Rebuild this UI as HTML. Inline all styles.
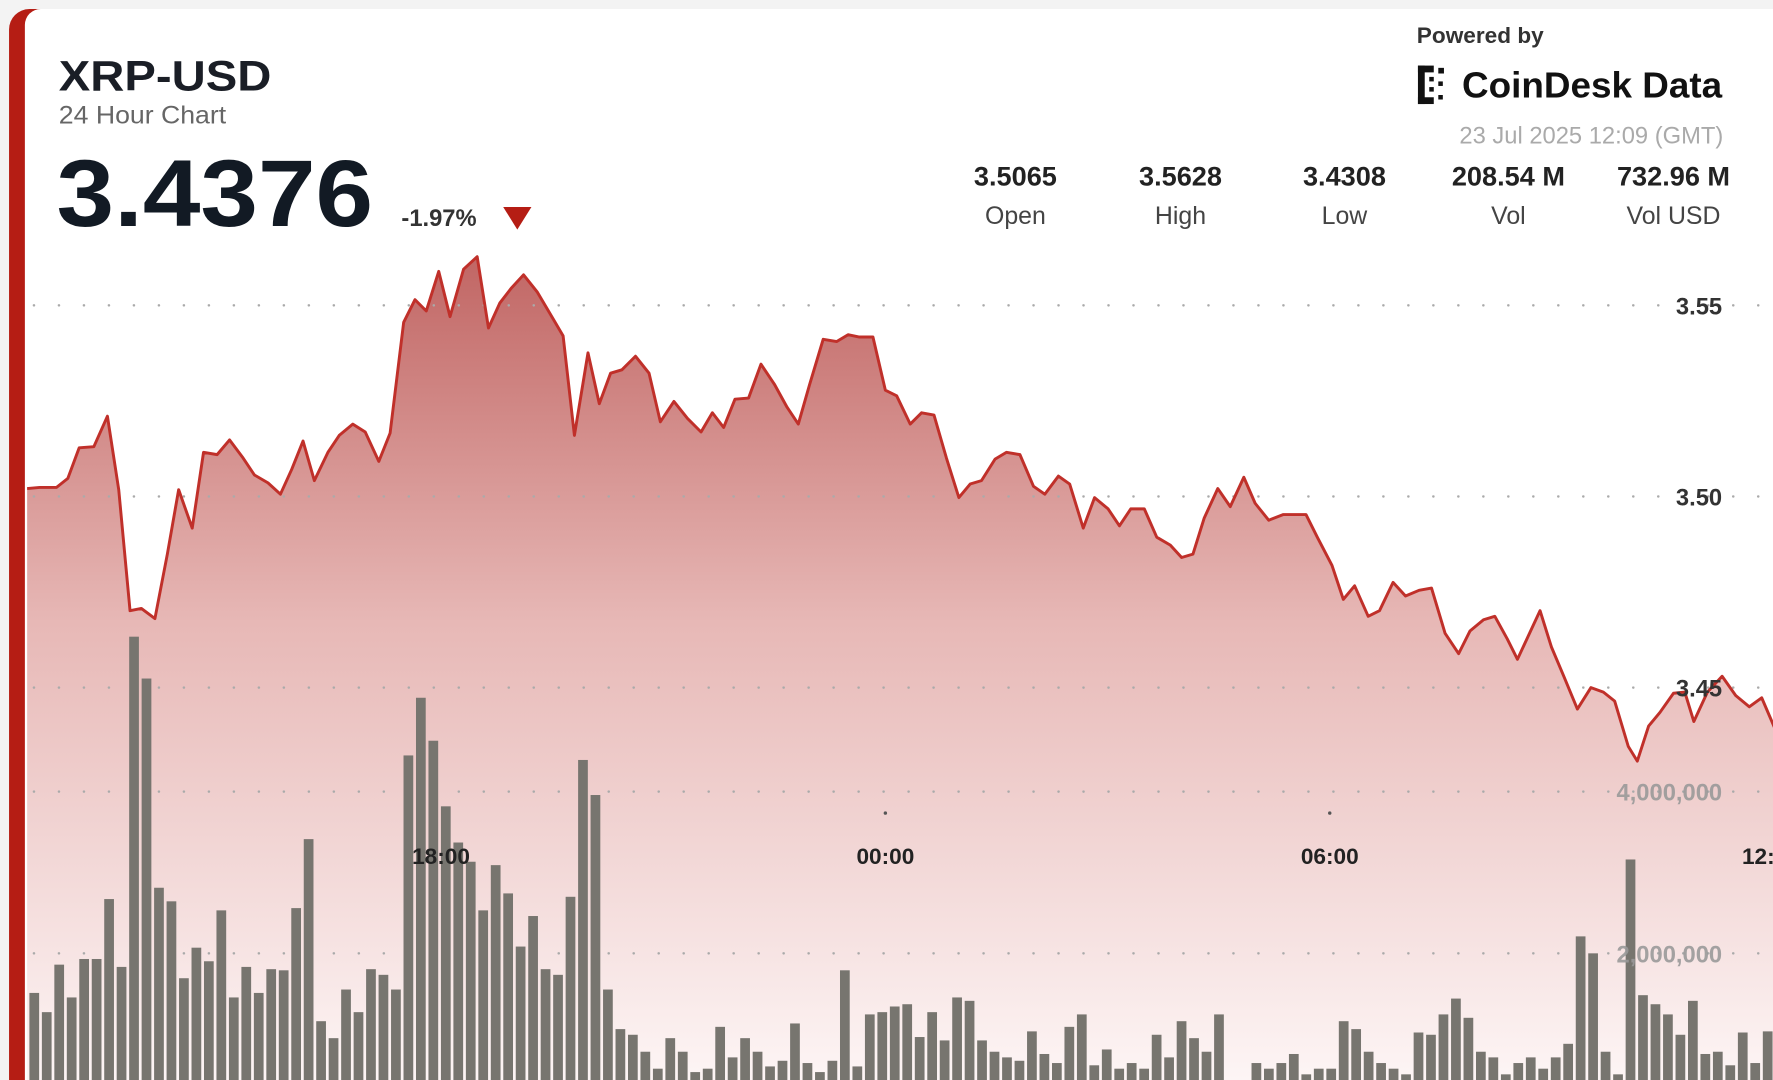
<!DOCTYPE html>
<html><head><meta charset="utf-8"><style>
html,body{margin:0;padding:0;background:#f3f3f3;width:1773px;height:1080px;overflow:hidden}
svg{display:block}
text{font-family:"Liberation Sans","DejaVu Sans",sans-serif}
</style></head><body>
<svg id="s" width="1773" height="1080" viewBox="0 0 1568 955" preserveAspectRatio="none" xmlns="http://www.w3.org/2000/svg">
<defs>
<linearGradient id="g" x1="0" y1="220" x2="0" y2="955" gradientUnits="userSpaceOnUse">
<stop offset="0" stop-color="#c06462"/>
<stop offset="0.45" stop-color="#e7b8b6"/>
<stop offset="1" stop-color="#fdf5f5"/>
</linearGradient>
<clipPath id="c"><rect x="8" y="8" width="1560" height="947"/></clipPath>
</defs>
<rect x="0" y="0" width="1568" height="955" fill="#f3f3f3"/>
<rect x="8" y="8" width="1580" height="990" rx="18" fill="#b51d14"/>
<rect x="22" y="8" width="1570" height="990" rx="14" fill="#fff"/>
<g clip-path="url(#c)" id="chart"></g>
<text x="52" y="80" font-size="38" font-weight="bold" fill="#1a1e26" textLength="188" lengthAdjust="spacingAndGlyphs">XRP-USD</text>
<text x="52" y="109" font-size="22" fill="#666" textLength="148" lengthAdjust="spacingAndGlyphs">24 Hour Chart</text>
<text x="50" y="200" font-size="84" font-weight="bold" fill="#121a24" textLength="280" lengthAdjust="spacingAndGlyphs">3.4376</text>
<text x="355" y="200" font-size="21" font-weight="bold" fill="#333">-1.97%</text>
<path d="M445 183 L470 183 L457.5 203 Z" fill="#b51d14"/>
<text x="1253" y="38" font-size="20" font-weight="bold" fill="#333">Powered by</text>
<g fill="#111"><rect x="1254" y="58" width="6" height="34"/><rect x="1254" y="58" width="14" height="6"/><rect x="1254" y="86" width="14" height="6"/><rect x="1264" y="68" width="4" height="4"/><rect x="1264" y="77" width="4" height="4"/><rect x="1272" y="60" width="5" height="5"/><rect x="1272" y="72" width="4" height="4"/><rect x="1272" y="84" width="4" height="4"/></g>
<text x="1293" y="86" font-size="32" font-weight="bold" fill="#111" textLength="230" lengthAdjust="spacingAndGlyphs">CoinDesk Data</text>
<text x="1524" y="127" font-size="21" fill="#aaa" text-anchor="end">23 Jul 2025 12:09 (GMT)</text>
<g font-size="24" font-weight="bold" fill="#222" text-anchor="middle">
<text x="898" y="164">3.5065</text><text x="1044" y="164">3.5628</text><text x="1189" y="164">3.4308</text><text x="1334" y="164">208.54 M</text><text x="1480" y="164">732.96 M</text></g>
<g font-size="22" fill="#444" text-anchor="middle">
<text x="898" y="198">Open</text><text x="1044" y="198">High</text><text x="1189" y="198">Low</text><text x="1334" y="198">Vol</text><text x="1480" y="198">Vol USD</text></g>
</svg>
<script>
var ns="http://www.w3.org/2000/svg",G=document.getElementById("chart");
function el(t,a){var e=document.createElementNS(ns,t);for(var k in a)e.setAttribute(k,a[k]);G.appendChild(e);return e;}
var p=[[24,432],[35,431],[50,431],[60,423],[70,396],[83,395],[95,368],[105,433],[115,540],[125,538],[137,547],[148,490],[158,433],[170,467],[180,400],[192,402],[203,389],[215,405],[225,420],[237,427],[248,437],[258,415],[268,390],[278,425],[290,400],[300,385],[312,375],[323,382],[335,408],[345,383],[357,285],[367,265],[377,275],[388,240],[398,280],[410,238],[422,227],[432,290],[442,268],[452,255],[463,243],[475,258],[488,280],[498,297],[508,385],[520,312],[530,357],[540,330],[550,327],[562,315],[574,330],[584,373],[596,355],[608,370],[620,382],[630,365],[640,378],[650,353],[662,352],[673,322],[685,340],[696,360],[706,375],[716,340],[728,300],[740,302],[750,296],[760,298],[772,298],[783,345],[793,350],[805,375],[815,365],[826,367],[837,405],[848,440],[858,428],[868,425],[880,406],[890,400],[902,402],[914,430],[924,437],[936,421],[946,428],[958,467],[968,440],[980,450],[990,465],[1000,450],[1012,450],[1023,475],[1035,482],[1045,493],[1055,490],[1065,458],[1077,432],[1088,448],[1100,422],[1110,445],[1122,460],[1135,455],[1155,455],[1165,475],[1178,500],[1188,530],[1198,518],[1210,545],[1220,540],[1232,515],[1243,527],[1255,522],[1266,520],[1278,560],[1290,578],[1300,558],[1312,548],[1322,545],[1333,565],[1342,583],[1355,555],[1362,540],[1372,572],[1383,598],[1395,627],[1407,608],[1418,612],[1428,620],[1440,660],[1448,673],[1458,642],[1468,630],[1480,613],[1490,612],[1498,638],[1510,612],[1523,598],[1535,615],[1547,625],[1558,617],[1570,645]];
var d=p.map(function(q,i){return (i?"L":"M")+q[0]+" "+q[1]}).join(" ");
el("path",{d:d+" L1570 960 L24 960 Z",fill:"url(#g)"});
[270,439,608,700,843].forEach(function(y){el("line",{x1:30,x2:1568,y1:y,y2:y,stroke:"#aaa","stroke-width":2.2,"stroke-dasharray":"0.1 22","stroke-linecap":"round"});});
var b=[878,895,853,882,848,848,795,855,563,600,785,797,865,838,850,805,882,855,878,857,858,803,742,903,918,875,895,857,862,875,668,617,655,713,745,762,805,765,790,837,810,857,862,793,672,703,875,910,915,930,945,918,930,948,945,908,935,918,930,943,938,905,940,948,938,858,943,897,895,890,888,917,895,920,882,885,920,930,935,938,912,932,940,908,897,942,928,945,940,945,915,935,903,918,930,897,960,960,940,945,940,932,950,945,945,903,910,930,940,945,950,913,915,897,883,900,930,935,950,940,935,945,935,923,828,843,930,950,760,880,888,897,915,885,932,930,942,913,940,912];
var sp=(1559-26)/(b.length-1);
b.forEach(function(t,i){el("rect",{x:26+i*sp,y:t,width:sp*0.78,height:960-t,fill:"#77756f"});});
el("path",{d:d,fill:"none",stroke:"#c0302a","stroke-width":2.6,"stroke-linejoin":"round"});
[[390,"18:00"],[783,"00:00"],[1176,"06:00"],[1555,"12:"]].forEach(function(a){var t=el("text",{x:a[0],y:764,"font-size":20,"font-weight":"bold",fill:"#222","text-anchor":"middle"});t.textContent=a[1];});
[783,1176].forEach(function(x){el("circle",{cx:x,cy:719,r:1.5,fill:"#555"});});
[[278,"3.55"],[447,"3.50"],[616,"3.45"]].forEach(function(a){var t=el("text",{x:1523,y:a[0],"font-size":21,"font-weight":"bold",fill:"#333","text-anchor":"end"});t.textContent=a[1];});
[[708,"4,000,000"],[851,"2,000,000"]].forEach(function(a){var t=el("text",{x:1523,y:a[0],"font-size":21,"font-weight":"bold",fill:"#999","text-anchor":"end","fill-opacity":0.9});t.textContent=a[1];});
</script>
</body></html>
